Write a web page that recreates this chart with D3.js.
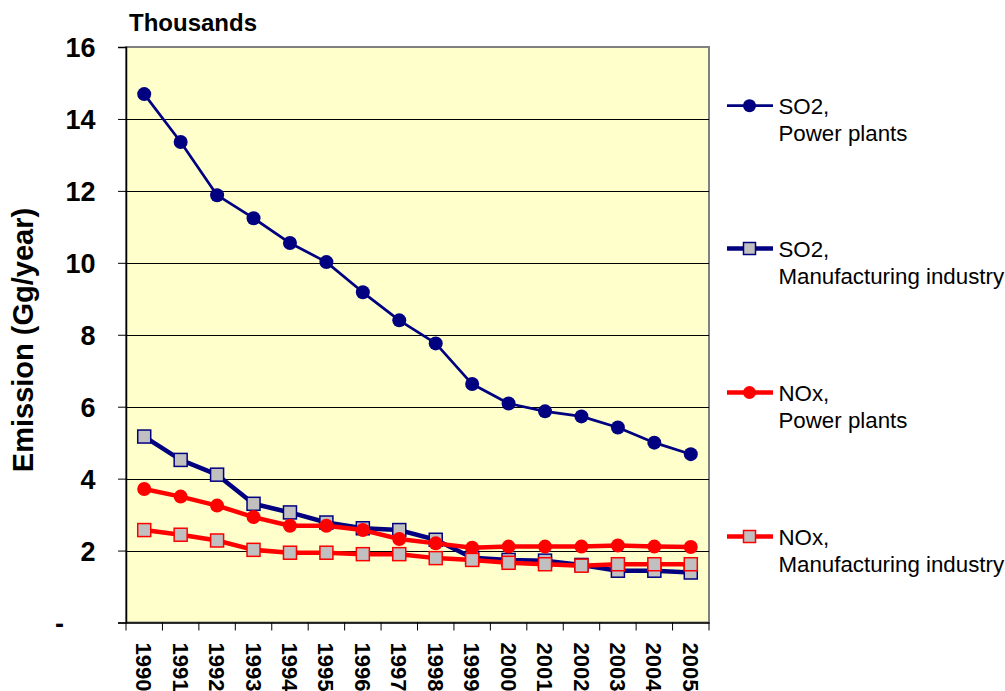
<!DOCTYPE html>
<html><head><meta charset="utf-8">
<script src="https://cdn.jsdelivr.net/npm/d3@7/dist/d3.min.js"></script>
<style>
html,body{margin:0;padding:0;background:#fff;}
svg{display:block;font-family:"Liberation Sans",Arial,sans-serif;}
</style></head>
<body>
<svg id="chart" width="1005" height="691"></svg>
<script>
const years = ["1990","1991","1992","1993","1994","1995","1996","1997","1998","1999","2000","2001","2002","2003","2004","2005"];
const so2Power = [14.69,13.36,11.88,11.24,10.55,10.02,9.18,8.40,7.76,6.63,6.09,5.87,5.73,5.42,5.00,4.68];
const so2Manuf = [5.17,4.52,4.11,3.30,3.06,2.78,2.62,2.57,2.30,1.80,1.74,1.72,1.60,1.44,1.44,1.39];
const noxPower = [3.71,3.50,3.25,2.93,2.69,2.69,2.57,2.32,2.20,2.08,2.11,2.11,2.11,2.14,2.11,2.10];
const noxManuf = [2.57,2.44,2.28,2.02,1.94,1.94,1.90,1.90,1.79,1.74,1.66,1.62,1.58,1.62,1.62,1.62];
const yTicks = [0,2,4,6,8,10,12,14,16];
const yTickLabels = ["-","2","4","6","8","10","12","14","16"];
const seriesNames = [["SO2,","Power plants"],["SO2,","Manufacturing industry"],["NOx,","Power plants"],["NOx,","Manufacturing industry"]];

const series = [
  {name: seriesNames[0], values: so2Power, color: "#000080", marker: "circle", fill: "#000080", width: 2.7},
  {name: seriesNames[1], values: so2Manuf, color: "#000080", marker: "square", fill: "#C0C0C0", width: 4.5},
  {name: seriesNames[2], values: noxPower, color: "#FF0000", marker: "circle", fill: "#FF0000", width: 4.5},
  {name: seriesNames[3], values: noxManuf, color: "#FF0000", marker: "square", fill: "#C0C0C0", width: 4.5}
];

const svg = d3.select("#chart");
const L = 126, R = 709, T = 47, B = 622.5;
const FONT = "Liberation Sans, Arial, sans-serif";

const x = d3.scaleBand().domain(years).range([L, R]);
const y = d3.scaleLinear().domain([0, 16]).range([B, T]);

// plot background
svg.append("rect").attr("x", L).attr("y", T).attr("width", R - L).attr("height", B - T)
  .attr("fill", "#FFFFCC").attr("stroke", "#808080").attr("stroke-width", 2);

// gridlines
svg.append("g").selectAll("line").data(yTicks.filter(v => v > 0 && v < 16)).join("line")
  .attr("x1", L).attr("x2", R).attr("y1", d => Math.round(y(d)) + 0.5).attr("y2", d => Math.round(y(d)) + 0.5)
  .attr("stroke", "#000").attr("stroke-width", 1);

// y axis
const yAxis = d3.axisLeft(y).tickValues(yTicks).tickSize(8)
  .tickFormat((d, i) => yTickLabels[i]);
const gy = svg.append("g").attr("transform", `translate(${L},0)`).call(yAxis);
gy.select(".domain").attr("stroke", "#000").attr("stroke-width", 1.5);
gy.selectAll(".tick line").attr("stroke", "#000").attr("stroke-width", 1);
gy.selectAll(".tick text").attr("x", d => d === 0 ? -62 : -30.5).attr("dy", "0.36em")
  .attr("font-size", 27).attr("font-weight", "bold")
  .attr("fill", "#000").attr("font-family", FONT);

// x axis
const xAxis = d3.axisBottom(x).tickSize(0).tickFormat(d => d);
const gx = svg.append("g").attr("transform", `translate(0,${B})`).call(xAxis);
gx.select(".domain").attr("stroke", "#000").attr("stroke-width", 1.5);
gx.selectAll(".tick text")
  .attr("transform", "rotate(90)")
  .attr("x", 20).attr("y", 0).attr("dy", "0.36em")
  .attr("text-anchor", "start")
  .attr("font-size", 22).attr("font-weight", "bold").attr("fill", "#000")
  .attr("font-family", FONT);
// category boundary ticks
const bounds = years.map(d => x(d)).concat([R]);
svg.append("g").selectAll("line").data(bounds).join("line")
  .attr("x1", d => d).attr("x2", d => d).attr("y1", B).attr("y2", B + 8)
  .attr("stroke", "#000").attr("stroke-width", 1);

// titles
svg.append("text").attr("x", 129).attr("y", 30.5).text("Thousands")
  .attr("font-size", 24).attr("font-weight", "bold").attr("fill", "#000");
svg.append("text").attr("transform", `translate(33,340) rotate(-90)`).attr("text-anchor", "middle")
  .text("Emission (Gg/year)").attr("font-size", 29).attr("font-weight", "bold").attr("fill", "#000");

// series
const cx = d => x(d) + x.bandwidth() / 2;
const line = d3.line().x((v, i) => cx(years[i])).y(v => y(v));

function drawMarker(g, s, px, py) {
  if (s.marker === "circle") {
    g.append("circle").attr("cx", px).attr("cy", py).attr("r", 7).attr("fill", s.fill);
  } else {
    g.append("rect").attr("x", px - 6.5).attr("y", py - 6.5).attr("width", 13).attr("height", 13)
      .attr("fill", s.fill).attr("stroke", s.color).attr("stroke-width", 1.5);
  }
}

series.forEach(s => {
  const g = svg.append("g");
  g.append("path").datum(s.values).attr("d", line).attr("fill", "none")
    .attr("stroke", s.color).attr("stroke-width", s.width).attr("stroke-linejoin", "round");
  s.values.forEach((v, i) => drawMarker(g, s, cx(years[i]), y(v)));
});

// legend
const legendY = [105.7, 248.5, 392.5, 536.5];
series.forEach((s, i) => {
  const g = svg.append("g");
  const ly = legendY[i];
  g.append("line").attr("x1", 727).attr("x2", 773).attr("y1", ly).attr("y2", ly)
    .attr("stroke", s.color).attr("stroke-width", s.width);
  if (s.marker === "circle") {
    g.append("circle").attr("cx", 749.5).attr("cy", ly).attr("r", 6.5).attr("fill", s.fill);
  } else {
    g.append("rect").attr("x", 743.5).attr("y", ly - 6).attr("width", 12).attr("height", 12)
      .attr("fill", s.fill).attr("stroke", s.color).attr("stroke-width", 1.5);
  }
  g.append("text").attr("x", 778.5).attr("y", ly + 8).text(s.name[0])
    .attr("font-size", 22.3).attr("fill", "#000");
  g.append("text").attr("x", 778.5).attr("y", ly + 35.5).text(s.name[1])
    .attr("font-size", 22.3).attr("fill", "#000");
});
</script>
</body></html>
